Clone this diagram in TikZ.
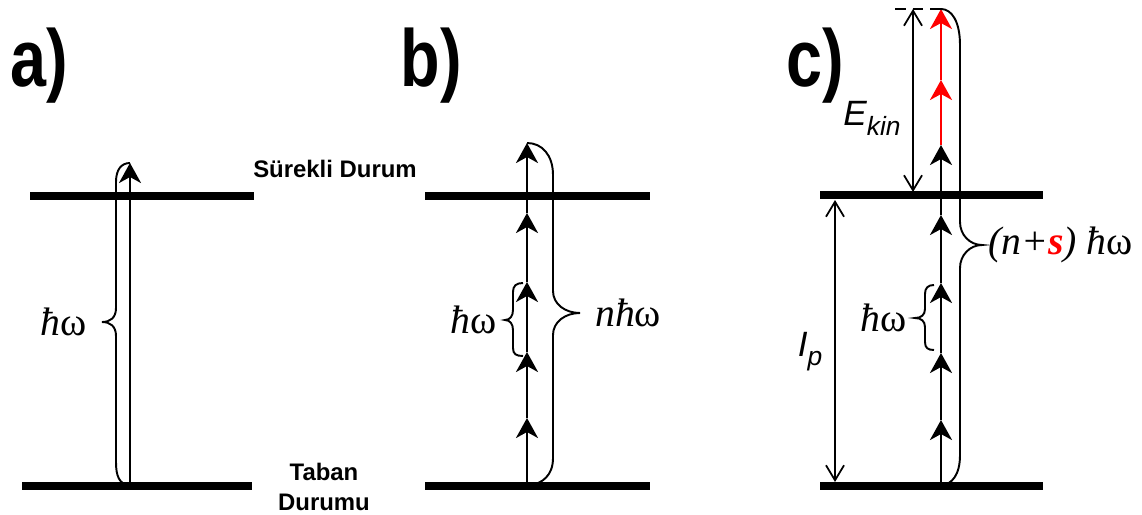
\documentclass[tikz,border=0pt]{standalone}
\usepackage{fontspec}
\setmainfont{Liberation Serif}
\setsansfont{Liberation Sans}
\usepackage{graphicx}
\usetikzlibrary{arrows.meta,positioning}
\definecolor{PhotonRed}{RGB}{255,0,0}

\tikzset{
  level/.style={line width=2.4pt},
  photon/.style={line width=0.7pt, -{Stealth[length=2mm,width=2.2mm,inset=0.6mm]}},
  gaparrow/.style={line width=0.5pt, {Straight Barb[length=1.5mm,width=1.8mm]}-{Straight Barb[length=1.5mm,width=1.8mm]}},
  bracepath/.style={line width=0.55pt},
  panel/.style={anchor=base west, inner sep=0pt, font=\sffamily\bfseries\fontsize{23}{25}\selectfont},
  statelabel/.style={align=center, inner sep=0pt, font=\sffamily\bfseries\fontsize{6.8}{8.3}\selectfont},
  energy/.style={inner sep=1pt, font=\fontsize{11.3}{13}\selectfont},
  gaplabel/.style={inner sep=0pt, font=\sffamily\itshape\fontsize{10}{12}\selectfont}
}
\newcommand{\hw}{\textit{ħ}ω}

\begin{document}
\begin{tikzpicture}[x=0.01cm, y=-0.01cm]
  \useasboundingbox (0,0) rectangle (1142,515);

  % panel titles
  \node[panel] (titleA) at (10,86) {\scalebox{0.8}[1]{a)}};
  \node[panel] (titleB) at (400,86) {\scalebox{0.8}[1]{b)}};
  \node[panel] (titleC) at (786,86) {\scalebox{0.8}[1]{c)}};

  % energy levels
  \draw[level] (30,196) -- (254,196);
  \draw[level] (22,486) -- (252,486);
  \draw[level] (425,196) -- (650,196);
  \draw[level] (425,486) -- (650,486);
  \draw[level] (820,195) -- (1043,195);
  \draw[level] (820,486) -- (1043,486);

  \node[statelabel] (continuum) at (335,169) {Sürekli Durum};
  \node[statelabel] (ground) at (324,487) {Taban\\Durumu};

  % a) one photon
  \coordinate (a0) at (130,486);
  \coordinate (a1) at (130,163);
  \draw[photon] (a0) -- (a1);
  \draw[bracepath] (a0) .. controls (119,484) and (116,476) .. (116,462) -- (116,336)
    .. controls (116,326) and (110,322) .. (102,322) coordinate (tipA)
    .. controls (110,322) and (116,318) .. (116,308) -- (116,182)
    .. controls (116,170) and (121,163) .. (a1);
  \node[energy, left=1.1mm of tipA] (hwA) {\hw};

  % b) n photons
  \foreach \n/\y in {0/486,1/418,2/352,3/282,4/213,5/143}
    \coordinate (b\n) at (527,\y);
  \foreach \i/\j in {0/1,1/2,2/3,3/4,4/5}
    \draw[photon] (b\i) -- (b\j);
  \draw[bracepath] (523,283) .. controls (516,283) and (513,286) .. (513,292) -- (513,310)
    .. controls (513,316) and (510,320) .. (505,320) coordinate (tipB)
    .. controls (510,320) and (513,324) .. (513,330) -- (513,348)
    .. controls (513,354) and (516,356) .. (523,356);
  \node[energy, left=0.4mm of tipB] (hwB) {\hw};
  \draw[bracepath] (b0) .. controls (543,484) and (553,475) .. (553,458) -- (553,335)
    .. controls (553,322) and (565,313) .. (580,313) coordinate (tipN)
    .. controls (565,313) and (553,304) .. (553,291) -- (553,175)
    .. controls (553,155) and (542,143) .. (b5);
  \node[energy, right=1.1mm of tipN] (nhw) {\textit{nħ}ω};

  % c) above threshold ionisation
  \foreach \n/\y in {0/486,1/420,2/353,3/283,4/215,5/145,6/80,7/9}
    \coordinate (c\n) at (941,\y);
  \foreach \i/\j in {0/1,1/2,2/3,3/4,4/5}
    \draw[photon] (c\i) -- (c\j);
  \draw[photon, PhotonRed] (c5) -- (c6);
  \draw[photon, PhotonRed] (c6) -- (c7);
  \draw[bracepath] (934,285) .. controls (928,285) and (925,288) .. (925,294) -- (925,309)
    .. controls (925,315) and (921,318) .. (915,318) coordinate (tipC)
    .. controls (921,318) and (925,321) .. (925,327) -- (925,342)
    .. controls (925,348) and (928,350) .. (934,350);
  \node[energy, left=0.4mm of tipC] (hwC) {\hw};
  \draw[bracepath] (c0) .. controls (952,484) and (960,475) .. (960,455) -- (960,268)
    .. controls (960,255) and (970,245) .. (982,245) coordinate (tipS)
    .. controls (970,245) and (960,235) .. (960,222) -- (960,45)
    .. controls (960,22) and (952,9) .. (c7);
  \node[energy, right=0.2mm of tipS] (nshw) {\textit{(n+{\color{PhotonRed}\textbf{s}})} \hw};

  % kinetic energy and ionisation potential
  \coordinate (ekinTop) at (913,9);
  \coordinate (ekinBot) at (913,192);
  \coordinate (dashL) at (895,9);
  \draw[line width=0.5pt, dash pattern=on 3pt off 2pt] (dashL) -- (c7);
  \draw[gaparrow] (ekinTop) -- (ekinBot);
  \node[gaplabel] (ekin) at (872,118) {E{\fontsize{7.5}{9}\selectfont\raisebox{-2.8pt}{kin}}};
  \coordinate (ipTop) at (835,200);
  \coordinate (ipBot) at (835,482);
  \draw[gaparrow] (ipTop) -- (ipBot);
  \node[gaplabel] (ip) at (810,352) {I{\fontsize{7.5}{9}\selectfont\raisebox{-2.5pt}{p}}};
\end{tikzpicture}
\end{document}
